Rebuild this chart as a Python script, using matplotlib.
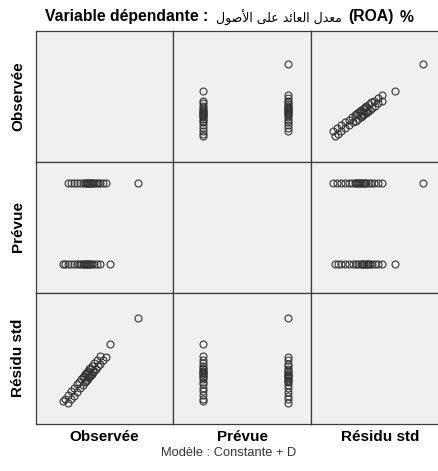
import matplotlib
matplotlib.use("Agg")
import matplotlib.pyplot as plt

# Variables of the scatterplot matrix
variables = ["Observée", "Prévue", "Résidu std"]

# Observed ROA (%) for the two levels of the dummy D
observed_d0 = [0.8, 1.0, 1.3, 1.6, 1.9, 2.2, 2.4, 2.6, 2.8, 2.9, 3.0,
               3.1, 3.2, 3.3, 3.4, 3.5, 3.7, 3.9, 4.2, 4.5, 5.5]
observed_d1 = [1.3, 1.6, 1.9, 2.2, 2.5, 2.8, 3.0, 3.1, 3.2, 3.3, 3.4,
               3.5, 3.6, 3.7, 3.8, 3.9, 4.1, 4.3, 4.5, 4.8, 5.1, 8.3]

# Fitted values of the model (constant + D), one per level
predicted_levels = [2.90, 3.54]

# Standardized residuals
std_resid_d0 = [-1.58, -1.43, -1.20, -0.98, -0.75, -0.52, -0.37, -0.22, -0.07,
                0.00, 0.08, 0.15, 0.23, 0.31, 0.38, 0.46, 0.61, 0.76, 0.98,
                1.21, 1.97]
std_resid_d1 = [-1.69, -1.46, -1.24, -1.01, -0.78, -0.56, -0.41, -0.33, -0.26,
                -0.18, -0.11, -0.03, 0.05, 0.12, 0.20, 0.27, 0.42, 0.57, 0.72,
                0.95, 1.18, 3.59]

observed = observed_d0 + observed_d1
predicted = ([predicted_levels[0]] * len(observed_d0)
             + [predicted_levels[1]] * len(observed_d1))
std_resid = std_resid_d0 + std_resid_d1
columns = [observed, predicted, std_resid]

# Axis ranges per variable
limits = [(-1.9, 11.8), (2.678, 3.71), (-3.0, 5.15)]

W, H = 438, 471
fig = plt.figure(figsize=(W / 100, H / 100), dpi=100)
fig.patch.set_facecolor("white")

col_edges = [36, 173, 311, 449]
row_edges = [31, 161.5, 292.5, 424]

for i in range(3):          # row -> y variable
    for j in range(3):      # column -> x variable
        x0, x1 = col_edges[j], col_edges[j + 1]
        y0, y1 = row_edges[i], row_edges[i + 1]
        ax = fig.add_axes([x0 / W, 1 - y1 / H, (x1 - x0) / W, (y1 - y0) / H])
        ax.set_facecolor("#f0f0f0")
        for s in ax.spines.values():
            s.set_color("#3c3c3c")
            s.set_linewidth(0.9)
        ax.set_xticks([])
        ax.set_yticks([])
        ax.set_xlim(*limits[j])
        ax.set_ylim(*limits[i])
        if i != j:
            ax.plot(columns[j], columns[i], linestyle="none", marker="o",
                    markersize=5.0, markerfacecolor="none",
                    markeredgecolor="#333333", markeredgewidth=0.8)

# Title: French label, Arabic variable name (display-order presentation
# forms), then the unit
arabic = ("\uFEDD\uFEEE\uFEBB\uFEF7\uFE8D "
          "\uFEF0\uFEE0\uFECB "
          "\uFEAA\uFE8B\uFE8E\uFECC\uFEDF\uFE8D "
          "\uFEDD\uFEAA\uFECC\uFEE3")
ty = 1 - 17 / H
fig.text(45 / W, ty, "Variable dépendante :", ha="left", va="center",
         fontsize=11.3, fontweight="bold", family="Liberation Sans")
fig.text(279 / W, ty - 1 / H, arabic, ha="center", va="center",
         fontsize=9, family="DejaVu Sans")
fig.text(348 / W, ty, "(ROA)", ha="left", va="center",
         fontsize=11.3, fontweight="bold", family="Liberation Sans")
fig.text(400 / W, ty, "%", ha="left", va="center",
         fontsize=11.3, fontweight="bold", family="Liberation Sans")

for k, name in enumerate(variables):
    xc = (col_edges[k] + col_edges[k + 1]) / 2
    fig.text(xc / W, 1 - 437 / H, name, ha="center", va="center",
             fontsize=11, fontweight="bold", family="Liberation Sans")
    yc = (row_edges[k] + row_edges[k + 1]) / 2
    fig.text(18 / W, 1 - yc / H, name, ha="center", va="center", rotation=90,
             fontsize=11, fontweight="bold", family="Liberation Sans")

fig.text(229 / W, 1 - 453 / H, "Modèle : Constante + D", ha="center",
         va="center", fontsize=9.3, color="#333333", family="Liberation Sans")

fig.savefig("out.png", dpi=100, facecolor="white")
